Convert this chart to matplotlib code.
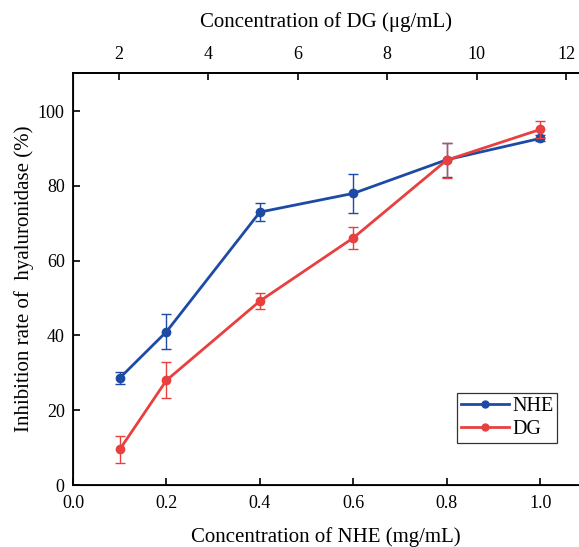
import matplotlib
matplotlib.use("Agg")
import matplotlib.pyplot as plt
from matplotlib.lines import Line2D

plt.rcParams['font.family'] = ['Liberation Serif', 'DejaVu Serif']

nhe_conc = [0.1, 0.2, 0.4, 0.6, 0.8, 1.0]
nhe_vals = [28.6, 41.0, 73.0, 78.0, 87.0, 92.7]
nhe_err = [1.7, 4.7, 2.3, 5.3, 4.5, 0.8]
dg_vals = [9.5, 28.0, 49.2, 66.1, 86.9, 95.1]
dg_err = [3.5, 4.8, 2.1, 3.0, 4.7, 2.3]
top_ticks = [2, 4, 6, 8, 10, 12]
bottom_ticks = [0.0, 0.2, 0.4, 0.6, 0.8, 1.0]
y_ticks = [0, 20, 40, 60, 80, 100]

blue = '#1d4aa5'
red = '#e8403f'

fig = plt.figure(figsize=(5.79, 5.47), dpi=100)
W, H = 579, 547
left, right, bottom, top = 73, 579, 485, 73
ax = fig.add_axes([left / W, 1 - bottom / H, (right - left) / W, (bottom - top) / H])

ax.errorbar(nhe_conc, nhe_vals, yerr=nhe_err, color=blue, lw=2.0, marker='o', ms=6,
            capsize=3.5, elinewidth=1.0, capthick=1.0, zorder=3)
ax.errorbar(nhe_conc, dg_vals, yerr=dg_err, color=red, lw=2.0, marker='o', ms=6,
            capsize=3.5, elinewidth=1.0, capthick=1.0, zorder=4)

ax.set_xlim(0, 1.083)
ax.set_ylim(0, 110.2)
ax.set_xticks(bottom_ticks)
ax.set_xticklabels([f'{t:.1f}' for t in bottom_ticks])
ax.set_yticks(y_ticks)
ax.tick_params(direction='in', length=5, width=1.2, labelsize=13)
ax.tick_params(axis='x', pad=7)
ax.tick_params(axis='y', pad=6)
ax.spines['right'].set_visible(False)
for s in ['left', 'bottom', 'top']:
    ax.spines[s].set_linewidth(1.3)
ax.set_xlabel('Concentration of NHE (mg/mL)', fontsize=15, labelpad=11)
ax.set_ylabel('Inhibition rate of  hyaluronidase (%)', fontsize=15, labelpad=3)

ax2 = ax.twiny()
ax2.set_xlim(0.978, 12.29)
ax2.set_xticks(top_ticks)
ax2.tick_params(direction='in', length=5, width=1.2, labelsize=13, pad=7)
ax2.spines['right'].set_visible(False)
ax2.spines['top'].set_linewidth(1.3)
ax2.set_xlabel('Concentration of DG (\u03bcg/mL)', fontsize=15, labelpad=14)

handles = [Line2D([], [], color=blue, lw=2.0, marker='o', ms=5),
           Line2D([], [], color=red, lw=2.0, marker='o', ms=5)]
leg = ax.legend(handles, ['NHE', 'DG'], loc='lower right', bbox_to_anchor=(0.957, 0.102),
                fontsize=14.5, frameon=True, fancybox=False, edgecolor='black',
                handlelength=2.4, handletextpad=0.15, borderpad=0.2, labelspacing=0.2,
                borderaxespad=0)
leg.get_frame().set_linewidth(0.9)

fig.savefig('out.png', dpi=100)
